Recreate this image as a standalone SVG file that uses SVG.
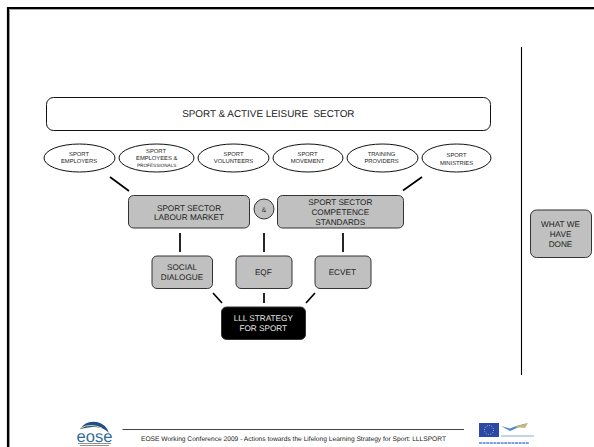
<svg xmlns="http://www.w3.org/2000/svg" width="594" height="447" viewBox="0 0 594 447">
<style>
text{font-family:"Liberation Sans",Arial,sans-serif;fill:#222;text-anchor:middle;text-rendering:geometricPrecision}
.gb{fill:#c0c0c0;stroke:#333;stroke-width:1}
.el{fill:#fff;stroke:#111;stroke-width:1}
.c{stroke:#000;stroke-width:1.700;fill:none}
.t5{font-size:5.800px}.t4{font-size:4.700px}.t8{font-size:8.200px}
</style>
<rect width="594" height="447" fill="#fff"/>
<path d="M9.500 447V9.500H594" fill="none" stroke="#aaa" stroke-width="1"/>
<path d="M8 447V8H594" fill="none" stroke="#000" stroke-width="2.200"/>
<g id="sector"><rect x="46.500" y="97.500" width="444" height="33" rx="7" fill="#fff" stroke="#111"/><text x="268.300" y="116.700" font-size="9.900" xml:space="preserve">SPORT &amp; ACTIVE LEISURE  SECTOR</text></g>
<g id="e1"><ellipse class="el" cx="79.500" cy="158" rx="35.500" ry="14"/><text class="t5" x="79" y="155.700">SPORT</text><text class="t5" x="79" y="162.700">EMPLOYERS</text></g>
<g id="e2"><ellipse class="el" cx="156.500" cy="158" rx="37.500" ry="14"/><text class="t5" x="156" y="152.800">SPORT</text><text class="t5" x="156.700" y="160">EMPLOYEES &amp;</text><text class="t4" x="156.700" y="166.700">PROFESSIONALS</text></g>
<g id="e3"><ellipse class="el" cx="233.500" cy="158" rx="35.500" ry="14"/><text class="t5" x="233.500" y="156">SPORT</text><text class="t5" x="233.500" y="163">VOLUNTEERS</text></g>
<g id="e4"><ellipse class="el" cx="308" cy="158" rx="35" ry="14"/><text class="t5" x="307.500" y="155.700">SPORT</text><text class="t5" x="307.500" y="162.700">MOVEMENT</text></g>
<g id="e5"><ellipse class="el" cx="382.500" cy="158" rx="35.500" ry="14"/><text class="t5" x="381.500" y="155.500">TRAINING</text><text class="t5" x="381.500" y="163.300">PROVIDERS</text></g>
<g id="e6"><ellipse class="el" cx="456.500" cy="158" rx="34.500" ry="14"/><text class="t5" x="456.500" y="156.500">SPORT</text><text class="t5" x="456.500" y="164.700">MINISTRIES</text></g>
<g id="labour"><rect class="gb" x="128.500" y="195.500" width="121" height="32.500" rx="5"/><text class="t8" x="189" y="210.500">SPORT SECTOR</text><text class="t8" x="189" y="220.300">LABOUR MARKET</text></g>
<g id="and"><circle cx="264" cy="209" r="10" fill="#c0c0c0" stroke="#333"/><text x="264" y="211.500" font-size="6.500">&amp;</text></g>
<g id="standards"><rect class="gb" x="277.500" y="195.500" width="126" height="32.500" rx="5"/><text class="t8" x="340.300" y="204.500">SPORT SECTOR</text><text class="t8" x="340.300" y="214.800">COMPETENCE</text><text class="t8" x="340.300" y="225">STANDARDS</text></g>
<g id="social"><rect class="gb" x="152" y="256" width="60.500" height="32.500" rx="5"/><text class="t8" x="182" y="270">SOCIAL</text><text class="t8" x="182" y="280">DIALOGUE</text></g>
<g id="eqf"><rect class="gb" x="236" y="256" width="56" height="32.500" rx="5"/><text class="t8" x="263.300" y="275">EQF</text></g>
<g id="ecvet"><rect class="gb" x="315" y="256" width="56" height="32.500" rx="5"/><text class="t8" x="342.300" y="275">ECVET</text></g>
<g id="lll"><rect x="221.500" y="307" width="84" height="32.500" rx="5" fill="#000" stroke="#333"/><text class="t8" x="263.300" y="321" style="fill:#e8e8e8">LLL STRATEGY</text><text class="t8" x="263.300" y="331" style="fill:#e8e8e8">FOR SPORT</text></g>
<g id="done"><rect class="gb" x="530.500" y="210" width="61" height="47.500" rx="6"/><text class="t8" x="560.500" y="226.700">WHAT WE</text><text class="t8" x="560.500" y="236.700">HAVE</text><text class="t8" x="560.500" y="246.700">DONE</text></g>
<g id="connectors" class="c">
<path d="M110 177L129 191M422 177L403 190.500M180 233V252M264 233V252M343 233V252M213 293L222 303M264 293V303M315 293L306 303"/>
<path d="M521.500 47V375" stroke-width="1.100"/>
</g>
<g id="footer">
<path d="M122.500 429.500H464" stroke="#444" stroke-width="1"/>
<text x="293.500" y="440.500" font-size="6.650">EOSE Working Conference 2009 - Actions towards the Lifelong Learning Strategy for Sport: LLLSPORT</text>
</g>
<g id="eose-logo">
<path d="M80 429Q86 420 97 422Q106 424 109 433Q103 426 92 427Q85 428 80 429Z" fill="#1d4f8f"/>
<path d="M81 428Q90 423 102 428" fill="none" stroke="#e8d98a" stroke-width="1"/>
<text x="94.500" y="442" font-size="16.500" style="fill:#2f6d9c">eose</text>
<path d="M78 443.500H111M80 445.500H109" stroke="#666" stroke-width="1" opacity=".7"/>
</g>
<g id="eu-logo">
<rect x="479" y="423" width="20" height="14" fill="#2a49a8"/>
<circle cx="489" cy="430" r="4.500" fill="none" stroke="#e5d66a" stroke-width=".8" stroke-dasharray="1 1.300"/>
<path d="M501 426L510 431L528 423L516 426L510 428.500Z" fill="#4b8ac7"/>
<path d="M514 427L528 423L525 428Z" fill="#c9b779"/>
<path d="M501 436H534" stroke="#8aa9d8" stroke-width="1.200"/>
<path d="M479 443H529" stroke="#7fa2dc" stroke-width="1.800" stroke-dasharray="3 .6"/>
</g>
</svg>
